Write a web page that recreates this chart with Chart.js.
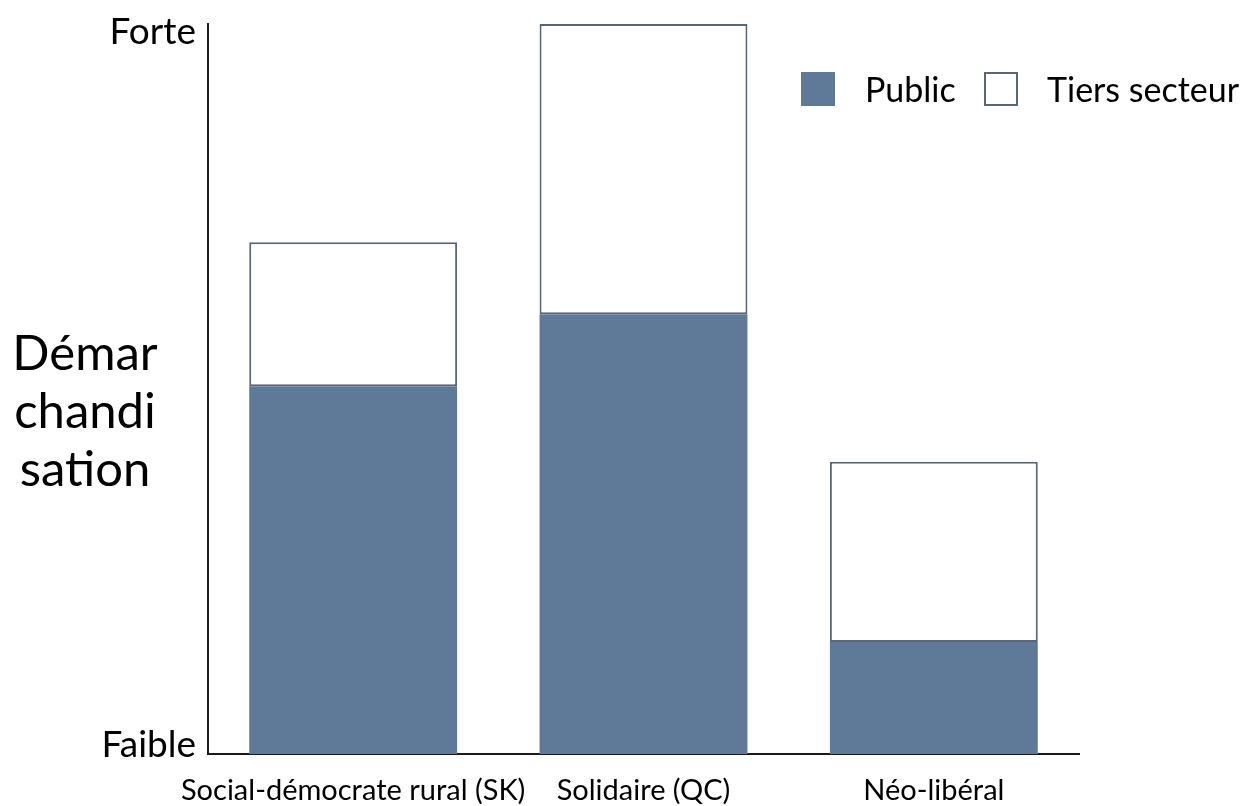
<!DOCTYPE html>
<html>
<head>
<meta charset="utf-8">
<script src="https://cdn.jsdelivr.net/npm/chart.js"></script>
<style>
  html, body { margin: 0; padding: 0; background: #fff; }
  #wrap { position: relative; width: 1254px; height: 806px; }
</style>
</head>
<body>
<div id="wrap"><canvas id="chart"></canvas></div>
<script>
var CATEGORIES = ["Social-démocrate rural (SK)", "Solidaire (QC)", "Néo-libéral"];
var PUBLIC = [51.6, 61.7, 15.7];
var TIERS = [20.2, 40.7, 25.3];
var Y_TICKS = [0, 100];
var Y_LABELS = ["Faible", "Forte"];
var Y_TITLE = ["Démar", "chandi", "sation"];

var FONT = "Lato, 'Open Sans', sans-serif";
var BLUE = "#5f7999";
var EDGE = "#5b6673";

// y title and legend sit outside the normal chart.js boxes, so draw them here
var extras = {
  id: "extras",
  afterDraw: function (chart) {
    var ctx = chart.ctx;
    ctx.save();
    ctx.fillStyle = "#000";
    ctx.font = "49px " + FONT;
    ctx.textAlign = "center";
    ctx.textBaseline = "alphabetic";
    Y_TITLE.forEach(function (t, i) {
      ctx.fillText(t, 85, 370 + i * 58);
    });

    var ds = chart.data.datasets;
    ctx.font = "34px " + FONT;
    ctx.textAlign = "left";
    ctx.textBaseline = "middle";
    // Public
    ctx.fillStyle = ds[0].backgroundColor;
    ctx.fillRect(801, 72, 34, 34);
    ctx.fillStyle = "#000";
    ctx.fillText(ds[0].label, 865, 91);
    // Tiers secteur
    ctx.fillStyle = "#fff";
    ctx.fillRect(985, 73, 32, 32);
    ctx.strokeStyle = ds[1].borderColor;
    ctx.lineWidth = 2;
    ctx.strokeRect(985, 73, 32, 32);
    ctx.fillStyle = "#000";
    ctx.fillText(ds[1].label, 1047, 91);
    ctx.restore();
  }
};

new Chart(document.getElementById("chart"), {
  type: "bar",
  data: {
    labels: CATEGORIES,
    datasets: [
      {
        label: "Public",
        data: PUBLIC,
        backgroundColor: BLUE,
        borderWidth: 0,
        categoryPercentage: 1,
        barPercentage: 0.716
      },
      {
        label: "Tiers secteur",
        data: TIERS,
        backgroundColor: "#fff",
        borderColor: EDGE,
        borderWidth: 2,
        borderSkipped: false,
        categoryPercentage: 1,
        barPercentage: 0.716
      }
    ]
  },
  options: {
    responsive: true,
    maintainAspectRatio: false,
    animation: false,
    layout: { autoPadding: false, padding: { top: 24, right: 175, left: 0, bottom: 0 } },
    plugins: { legend: { display: false }, tooltip: { enabled: false } },
    scales: {
      x: {
        stacked: true,
        grid: { display: false, drawTicks: false },
        border: { display: true, color: "#1a1a1a", width: 2 },
        ticks: {
          color: "#000",
          font: { family: FONT, size: 29 },
          padding: 19,
          maxRotation: 0,
          autoSkip: false
        },
        afterFit: function (s) { s.height = 52; }
      },
      y: {
        stacked: true,
        min: 0,
        max: 102.4,
        grid: { display: false, drawTicks: false },
        border: { display: true, color: "#1a1a1a", width: 2 },
        afterBuildTicks: function (s) {
          s.ticks = Y_TICKS.map(function (v) { return { value: v }; });
        },
        ticks: {
          color: "#000",
          font: { family: FONT, size: 37, lineHeight: 0.3 },
          padding: 12,
          labelOffset: -9,
          callback: function (v) {
            var i = Y_TICKS.indexOf(v);
            return i >= 0 ? Y_LABELS[i] : "";
          }
        },
        afterFit: function (s) {
          s.width = 208;
          s.paddingTop = 0;
          s.paddingBottom = 0;
        }
      }
    }
  },
  plugins: [extras]
});
</script>
</body>
</html>
